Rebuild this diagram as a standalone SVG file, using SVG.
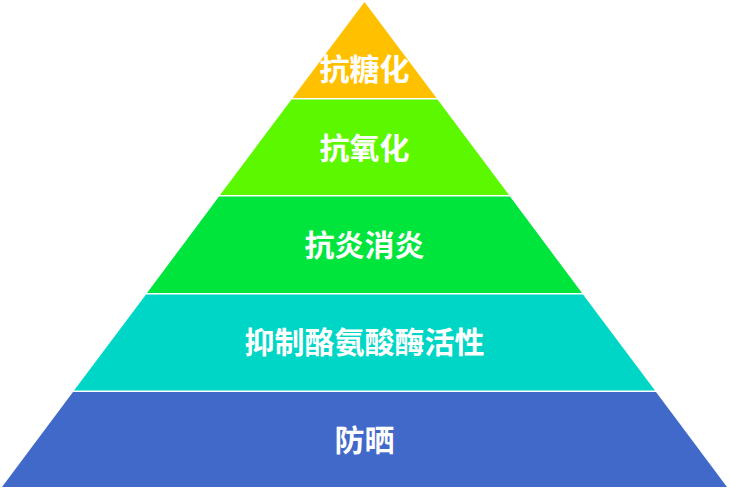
<svg xmlns="http://www.w3.org/2000/svg" width="730" height="490" viewBox="0 0 730 490">
<style>
.lbl{font-family:"Noto Sans CJK SC","Noto Sans",sans-serif;font-weight:bold;font-size:30px;fill:#ffffff;text-anchor:middle}
</style>
<rect width="730" height="490" fill="#ffffff"/>
<g id="layer1">
<polygon points="364.5,2 436.5,98 292.5,98" fill="#FFC000"/>
<text class="lbl" x="364.5" y="80">抗糖化</text>
</g>
<g id="layer2">
<polygon points="291.5,99.5 437.5,99.5 509,195 220,195" fill="#5BF800"/>
<text class="lbl" x="364.5" y="159">抗氧化</text>
</g>
<g id="layer3">
<polygon points="219,196.5 510,196.5 582,293 147,293" fill="#00E53C"/>
<text class="lbl" x="364.5" y="256">抗炎消炎</text>
</g>
<g id="layer4">
<polygon points="146,294.5 583,294.5 655,390.5 74,390.5" fill="#00D6C6"/>
<text class="lbl" x="364.5" y="353">抑制酪氨酸酶活性</text>
</g>
<g id="layer5">
<polygon points="73,392 656,392 727,487 2,487" fill="#4169CA"/>
<text class="lbl" x="364.5" y="451">防晒</text>
</g>
</svg>
